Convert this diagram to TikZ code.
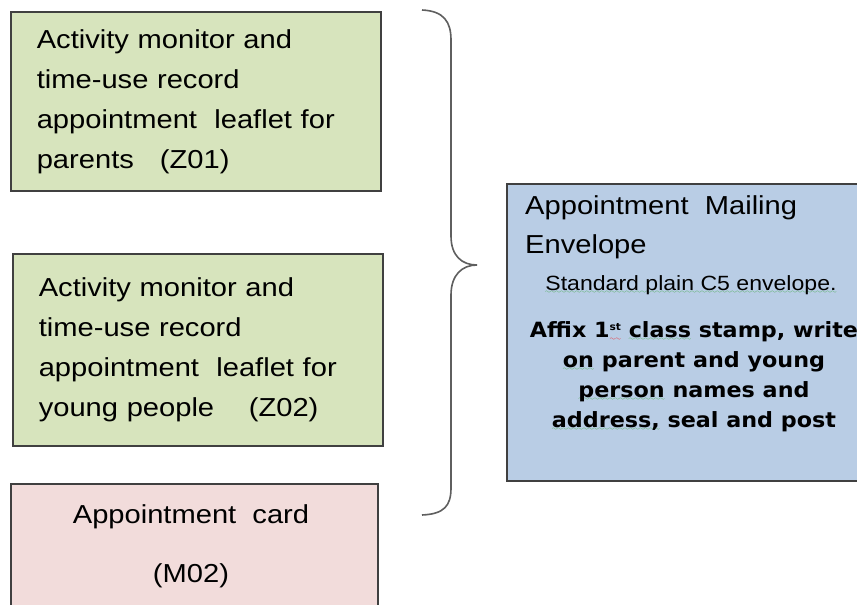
\documentclass[tikz,border=0pt]{standalone}
\usepackage{fontspec}
\setmainfont{Liberation Sans}[FakeStretch=1.12]
\newfontfamily\heavyfont{DejaVu Sans}[FakeStretch=1.06]
\usetikzlibrary{positioning}

\definecolor{leafgreen}{RGB}{215,228,189}
\definecolor{cardpink}{RGB}{242,220,219}
\definecolor{envblue}{RGB}{185,205,229}
\definecolor{boxline}{RGB}{64,64,64}
\definecolor{braceline}{RGB}{95,95,95}
\definecolor{spellgreen}{RGB}{60,170,60}

% spell-checker squiggle under a word
\font\wavefont=lasy6
\newcommand\spellwave[2][spellgreen]{\setbox0\hbox{#2}%
  \rlap{\lower3.5pt\hbox to\wd0{\color{#1}\xleaders\hbox{\wavefont\char58}\hfil}}\box0\relax}
\newcommand\tinysup[1]{\raisebox{7pt}{\fontsize{10}{10}\selectfont #1}}

\begin{document}
\begin{tikzpicture}[x=1pt, y=-1pt,
  paper/.style={draw=boxline, line width=1.6pt, anchor=north west, inner sep=0pt},
  leaflet/.style={paper, fill=leafgreen, minimum width=370pt, text width=318pt, align=left,
    font=\fontsize{26}{40}\selectfont},
  bigtext/.style={font=\fontsize{26}{39}\selectfont, inner sep=0pt},
  brace/.style={draw=braceline, line width=1.6pt}
]
  \clip (0,0) rectangle (857,605);
  \fill[white] (0,0) rectangle (857,605);

  % leaflets and card
  \node[leaflet, minimum height=179pt] (Z01) at (10,11)
    {Activity monitor and\\time-use record\\appointment\ \ leaflet for\\parents\ \ \ (Z01)};
  \node[leaflet, minimum height=192pt] (Z02) at (12,253)
    {Activity monitor and\\time-use record\\appointment\ \ leaflet for\\young people\ \ \ \ (Z02)};
  \node[paper, fill=cardpink, minimum width=367pt, minimum height=200pt] (M02) at (10,483) {};
  \node[bigtext, align=center, anchor=north, font=\fontsize{26}{59}\selectfont]
    (M02text) at (191,504) {Appointment\ \ card\\(M02)};

  % mailing envelope
  \node[paper, fill=envblue, minimum width=376pt, minimum height=297pt] (env) at (506,183) {};
  \node[bigtext, align=left, anchor=north west] (envtitle) at (525,195)
    {Appointment\ \ Mailing\\Envelope};
  \node[inner sep=0pt, anchor=north, font=\fontsize{20.6}{24}\selectfont] (envtype) at (691,275)
    {\spellwave{Standard plain C5 envelope.}};
  \node[inner sep=0pt, anchor=north, align=center, font=\heavyfont\bfseries\fontsize{21}{30}\selectfont]
    (envsteps) at (694,321)
    {Affix 1\spellwave[red]{\tinysup{st}} \spellwave{class} stamp, write\\
     \spellwave{on} parent and young\\\spellwave{person} names and\\\spellwave{address,} seal and post};

  % brace grouping the three items
  \draw[brace] (422,10) .. controls (444,11) and (451,22) .. (451,40)
    -- (451,236) .. controls (451,256) and (462,265) .. (477,265)
    .. controls (462,265) and (451,275) .. (451,295)
    -- (451,488) .. controls (451,506) and (444,514) .. (422,515);
\end{tikzpicture}
\end{document}
